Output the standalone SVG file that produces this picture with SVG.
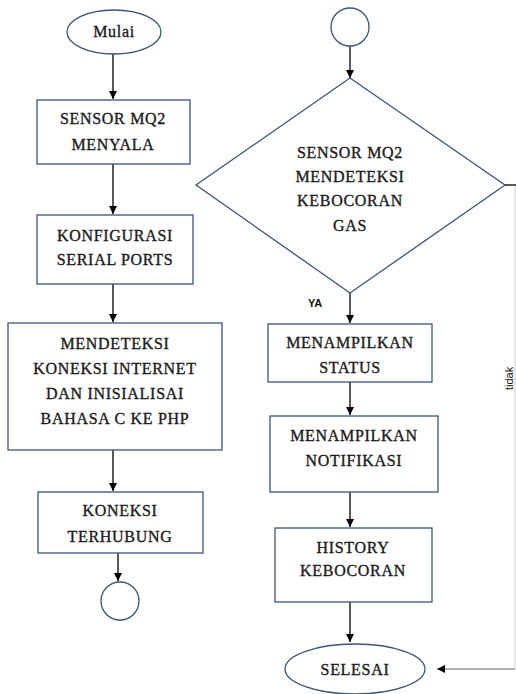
<svg xmlns="http://www.w3.org/2000/svg" width="516" height="694" viewBox="0 0 516 694">
<defs>
<marker id="ah" viewBox="0 0 10 10" refX="10" refY="5" markerWidth="8" markerHeight="8" markerUnits="userSpaceOnUse" orient="auto">
<path d="M0,0 L10,5 L0,10 z" fill="#000"/>
</marker>
<style>
.n{fill:#fff;stroke:#3b5479;stroke-width:1.3}
.t{font-family:"Liberation Serif","Times New Roman",serif;font-size:16px;letter-spacing:0.7px;fill:#1a1a1a;stroke:#1a1a1a;stroke-width:0.35;text-anchor:middle}
.c{stroke:#000;stroke-width:1.3;fill:none}
.g{stroke:#9a9a9a;stroke-width:1.3;fill:none}
.lbl{font-family:"Liberation Sans",Arial,sans-serif;font-size:11px;fill:#111}
</style>
</defs>
<rect width="516" height="694" fill="#fff"/>
<g id="connectors">
<line class="c" x1="113" y1="54" x2="113" y2="99" marker-end="url(#ah)"/>
<line class="c" x1="113" y1="164" x2="113" y2="214" marker-end="url(#ah)"/>
<line class="c" x1="113" y1="284" x2="113" y2="322" marker-end="url(#ah)"/>
<line class="c" x1="113" y1="450" x2="113" y2="491" marker-end="url(#ah)"/>
<line class="c" x1="118" y1="553" x2="118" y2="581" marker-end="url(#ah)"/>
<line class="c" x1="350" y1="46" x2="350" y2="78" marker-end="url(#ah)"/>
<line class="c" x1="350" y1="293" x2="350" y2="323" marker-end="url(#ah)"/>
<line class="c" x1="350" y1="382" x2="350" y2="415" marker-end="url(#ah)"/>
<line class="c" x1="350" y1="492" x2="350" y2="527" marker-end="url(#ah)"/>
<line class="c" x1="350" y1="602" x2="350" y2="642" marker-end="url(#ah)"/>
<line class="c" x1="505" y1="185" x2="516" y2="185"/>
<line x1="515" y1="186" x2="515" y2="669" stroke="#d0d0d0" stroke-width="1"/>
<line class="g" x1="515" y1="669" x2="437" y2="669" marker-end="url(#ah)"/>
<text class="lbl" x="308" y="307" font-weight="bold" font-size="10">YA</text>
<text class="lbl" x="0" y="0" transform="translate(513,390) rotate(-90)">tidak</text>
</g>
<g id="mulai">
<ellipse class="n" cx="114" cy="32" rx="47" ry="22"/>
<text class="t" x="114" y="37" font-size="15">Mulai</text>
</g>
<g id="sensor_menyala">
<rect class="n" x="37" y="100" width="153" height="64"/>
<text class="t" x="113" y="124">SENSOR MQ2</text>
<text class="t" x="113" y="150">MENYALA</text>
</g>
<g id="konfigurasi">
<rect class="n" x="37" y="215" width="156" height="69"/>
<text class="t" x="115" y="241">KONFIGURASI</text>
<text class="t" x="115" y="265">SERIAL PORTS</text>
</g>
<g id="mendeteksi_koneksi">
<rect class="n" x="8" y="323" width="214" height="127"/>
<text class="t" x="115" y="349">MENDETEKSI</text>
<text class="t" x="115" y="374">KONEKSI INTERNET</text>
<text class="t" x="115" y="399">DAN INISIALISAI</text>
<text class="t" x="115" y="424">BAHASA C KE PHP</text>
</g>
<g id="koneksi_terhubung">
<rect class="n" x="38" y="492" width="165" height="61"/>
<text class="t" x="120" y="516">KONEKSI</text>
<text class="t" x="120" y="542">TERHUBUNG</text>
</g>
<g id="connector_out">
<circle class="n" cx="120" cy="601" r="19"/>
</g>
<g id="connector_in">
<circle class="n" cx="350" cy="27" r="19"/>
</g>
<g id="decision">
<polygon class="n" points="350,78 505,185 350,293 196,185"/>
<text class="t" x="350" y="158">SENSOR MQ2</text>
<text class="t" x="350" y="182">MENDETEKSI</text>
<text class="t" x="350" y="206">KEBOCORAN</text>
<text class="t" x="350" y="231">GAS</text>
</g>
<g id="status">
<rect class="n" x="268" y="324" width="164" height="58"/>
<text class="t" x="350" y="348">MENAMPILKAN</text>
<text class="t" x="350" y="373">STATUS</text>
</g>
<g id="notifikasi">
<rect class="n" x="270" y="416" width="168" height="76"/>
<text class="t" x="354" y="441">MENAMPILKAN</text>
<text class="t" x="354" y="466">NOTIFIKASI</text>
</g>
<g id="history">
<rect class="n" x="275" y="528" width="157" height="74"/>
<text class="t" x="353" y="553">HISTORY</text>
<text class="t" x="353" y="576">KEBOCORAN</text>
</g>
<g id="selesai">
<ellipse class="n" cx="355" cy="669" rx="70" ry="25"/>
<text class="t" x="355" y="675">SELESAI</text>
</g>
</svg>
